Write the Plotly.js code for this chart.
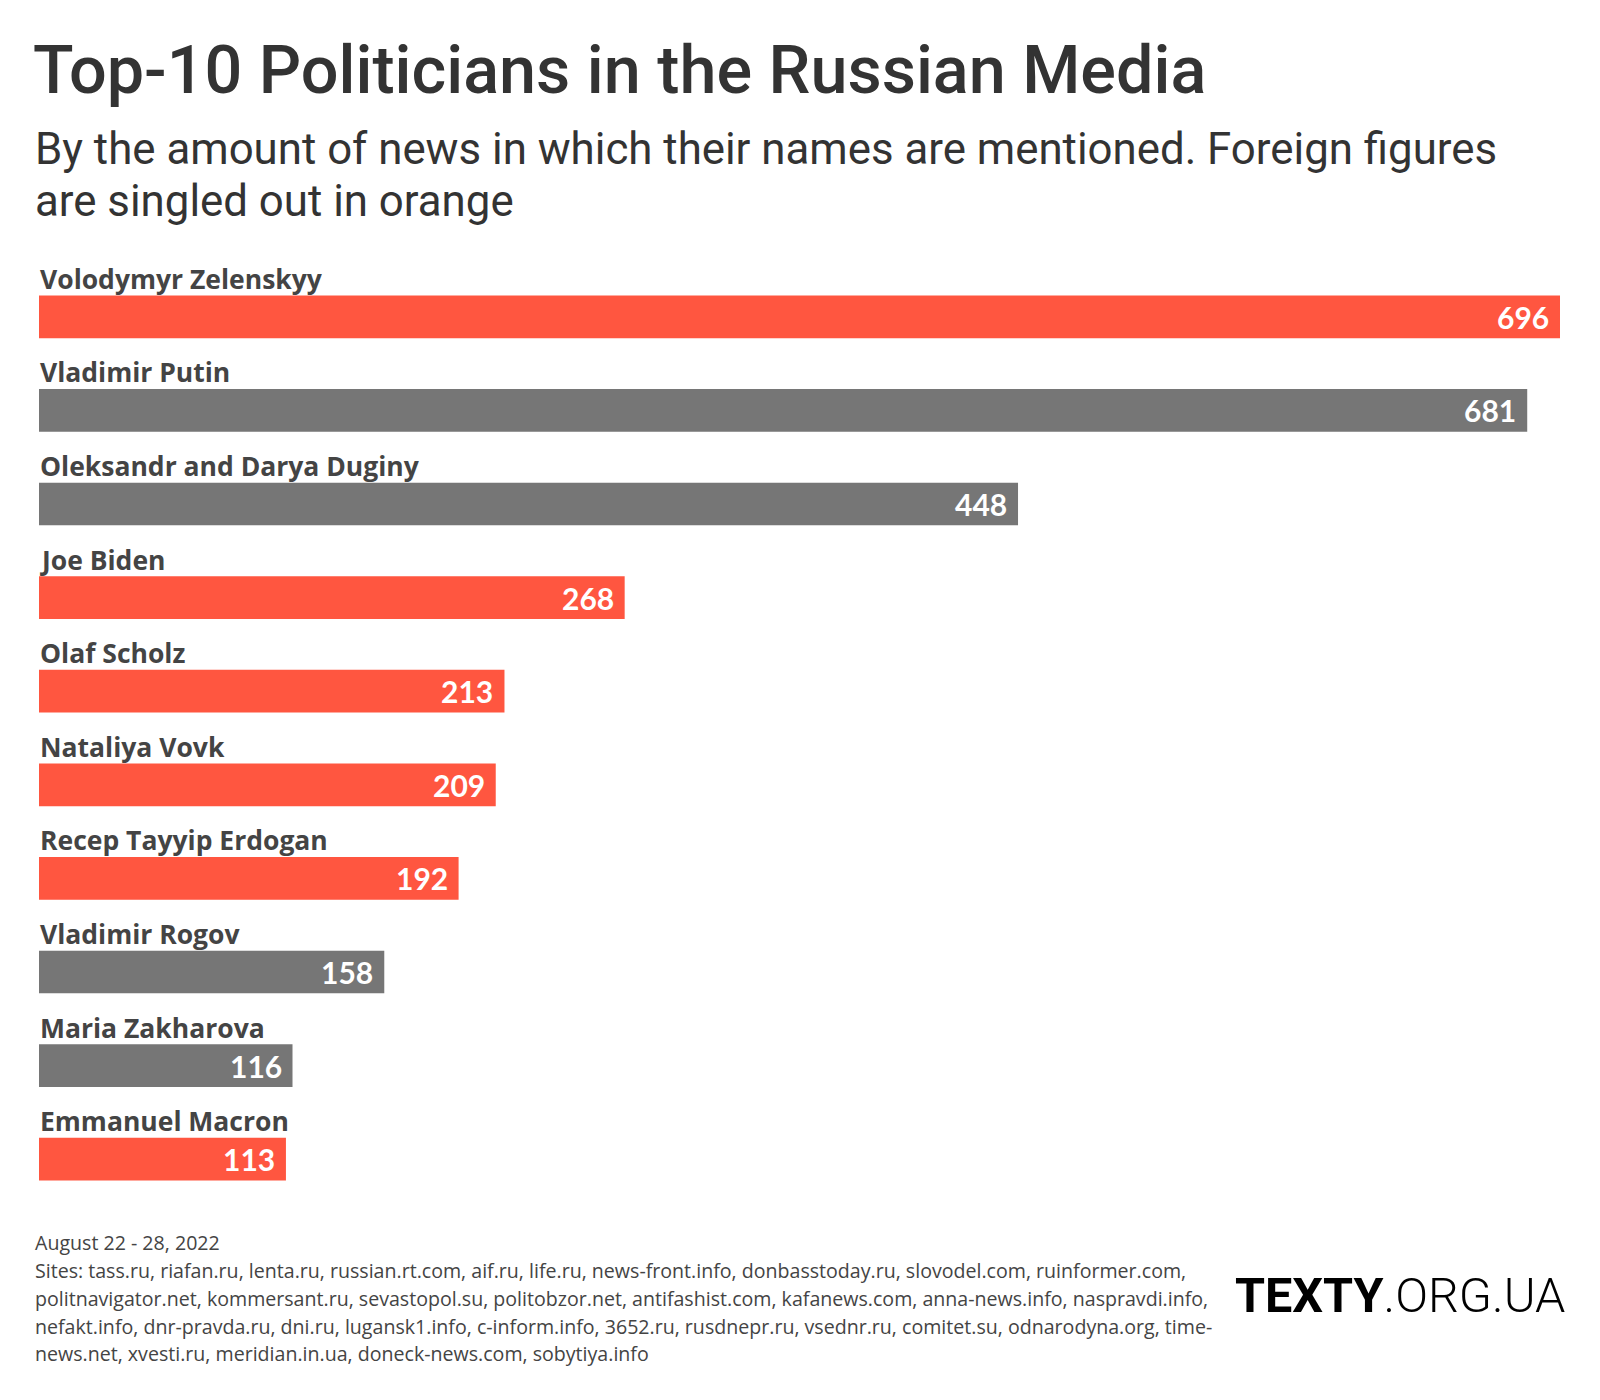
<!DOCTYPE html>
<html><head><meta charset="utf-8">
<script src="https://cdn.plot.ly/plotly-3.0.1.min.js"></script>
<style>html,body{margin:0;padding:0;background:#fff}</style>
</head><body><div id="chart" style="width:1600px;height:1400px"></div>
<script>
const names = ["Volodymyr Zelenskyy","Vladimir Putin","Oleksandr and Darya Duginy","Joe Biden","Olaf Scholz","Nataliya Vovk","Recep Tayyip Erdogan","Vladimir Rogov","Maria Zakharova","Emmanuel Macron"];
const values = [696,681,448,268,213,209,192,158,116,113];
const foreign = [true,false,false,true,true,true,true,false,false,true];
const titleText = "Top-10 Politicians in the Russian Media";
const subtitleLines = ["By the amount of news in which their names are mentioned. Foreign figures","are singled out in orange"];
const footerLines = [
 "August 22 - 28, 2022",
 "Sites: tass.ru, riafan.ru, lenta.ru, russian.rt.com, aif.ru, life.ru, news-front.info, donbasstoday.ru, slovodel.com, ruinformer.com,",
 "politnavigator.net, kommersant.ru, sevastopol.su, politobzor.net, antifashist.com, kafanews.com, anna-news.info, naspravdi.info,",
 "nefakt.info, dnr-pravda.ru, dni.ru, lugansk1.info, c-inform.info, 3652.ru, rusdnepr.ru, vsednr.ru, comitet.su, odnarodyna.org, time-",
 "news.net, xvesti.ru, meridian.in.ua, doneck-news.com, sobytiya.info"
];
const logoBold = "TEXTY";
const logoLight = ".ORG.UA";

const ORANGE = "#ff5640", GREY = "#767676";
const W = 1600, H = 1400, L = 39, R = 40, T = 269.5, B = 193.5;
const pw = W - L - R, ph = H - T - B;
const px = x => (x - L) / pw;
const py = y => (H - B - y) / ph;

const ann = [];
names.forEach((n, i) => {
  ann.push({x: 0, y: n, xref: "x", yref: "y", text: n, showarrow: false,
    xanchor: "left", yanchor: "middle", yshift: 38, xshift: -1,
    font: {family: "Open Sans", size: 26.5, color: "#444", weight: 700}});
  ann.push({x: values[i], y: n, xref: "x", yref: "y", text: String(values[i]), showarrow: false,
    xanchor: "right", yanchor: "middle", xshift: -9,
    font: {family: "Lato", size: 30, color: "#fff", weight: 700}});
});
const subY = [148, 200];
subtitleLines.forEach((s, i) => ann.push({x: px(33), y: py(subY[i]), xref: "paper", yref: "paper",
  text: s, showarrow: false, xanchor: "left", yanchor: "middle",
  font: {family: "Roboto", size: 43.8, color: "#333"}}));
const footY = [1243, 1271, 1299, 1327, 1354];
footerLines.forEach((s, i) => ann.push({x: px(33), y: py(footY[i]), xref: "paper", yref: "paper",
  text: s, showarrow: false, xanchor: "left", yanchor: "middle",
  font: {family: "Open Sans", size: 19.6, color: "#444"}}));
ann.push({x: px(1567), y: py(1296), xref: "paper", yref: "paper", showarrow: false,
  xanchor: "right", yanchor: "middle",
  text: "<b>" + logoBold + "</b><span style=\"font-weight:300\">" + logoLight + "</span>",
  font: {family: "Roboto", size: 48.5, color: "#000"}});

const trace = {
  type: "bar", orientation: "h", x: values, y: names,
  marker: {color: foreign.map(f => f ? ORANGE : GREY), line: {width: 0}},
  hoverinfo: "skip"
};
const layout = {
  width: W, height: H, paper_bgcolor: "#fff", plot_bgcolor: "#fff",
  margin: {l: L, r: R, t: T, b: B, pad: 0},
  showlegend: false, bargap: 0.544,
  title: {text: titleText, x: 33 / W, xanchor: "left", xref: "container",
    y: 1 - 69.5 / H, yref: "container", yanchor: "middle",
    font: {family: "Roboto", size: 66.5, color: "#333", weight: 500}},
  xaxis: {range: [0, 696], visible: false, fixedrange: true},
  yaxis: {type: "category", categoryorder: "array", categoryarray: names,
    range: [9.5, -0.5], visible: false, fixedrange: true},
  annotations: ann
};
Plotly.newPlot("chart", [trace], layout, {displayModeBar: false, staticPlot: true});
</script></body></html>
